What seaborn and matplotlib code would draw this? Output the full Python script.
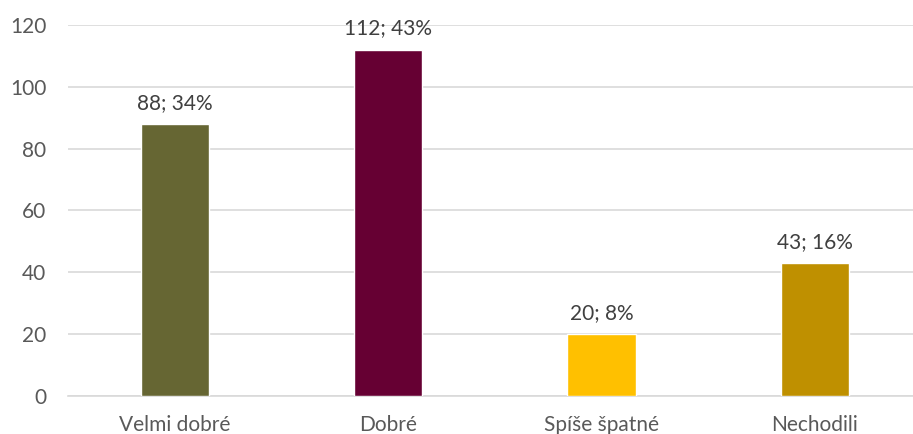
import matplotlib

matplotlib.use("Agg")

import matplotlib.pyplot as plt
import pandas as pd
import seaborn as sns

categories = ["Velmi dobré", "Dobré", "Spíše špatné", "Nechodili"]
counts = [88, 112, 20, 43]
shares = [34, 43, 8, 16]
colors = ["#666633", "#660033", "#FFC000", "#BF9000"]


def main() -> None:
    sns.set_theme(style="white")
    plt.rcParams["font.family"] = ["Lato", "DejaVu Sans"]

    df = pd.DataFrame({"category": categories, "count": counts})
    fig = plt.figure(figsize=(9.13, 4.34), dpi=100)
    ax = fig.add_axes([0.075, 0.0876, 0.934, 0.855])

    sns.barplot(
        data=df, x="category", y="count", hue="category", palette=colors,
        width=0.32, legend=False, saturation=1, ax=ax, zorder=3,
    )
    ax.set_ylim(0, 120)
    ax.set_xlim(-0.5, 3.5)
    ax.set_yticks(range(0, 121, 20))
    ax.yaxis.grid(True, color="#d9d9d9", lw=1.2, zorder=0)
    ax.set_axisbelow(True)
    for s in ["top", "right", "left"]:
        ax.spines[s].set_visible(False)
    ax.spines["bottom"].set_color("#d9d9d9")
    ax.spines["bottom"].set_linewidth(1.2)
    ax.tick_params(axis="both", length=0, labelsize=15, colors="#595959")
    ax.tick_params(axis="y", pad=16)
    ax.tick_params(axis="x", pad=14)
    ax.set_xlabel("")
    ax.set_ylabel("")

    for i, (c, p) in enumerate(zip(counts, shares)):
        ax.annotate(f"{c}; {p}%", (i, c), xytext=(0, 8), textcoords="offset points",
                    ha="center", va="bottom", fontsize=15, color="#404040")

    fig.savefig("out.png", dpi=100)
    plt.close(fig)


if __name__ == "__main__":
    main()
